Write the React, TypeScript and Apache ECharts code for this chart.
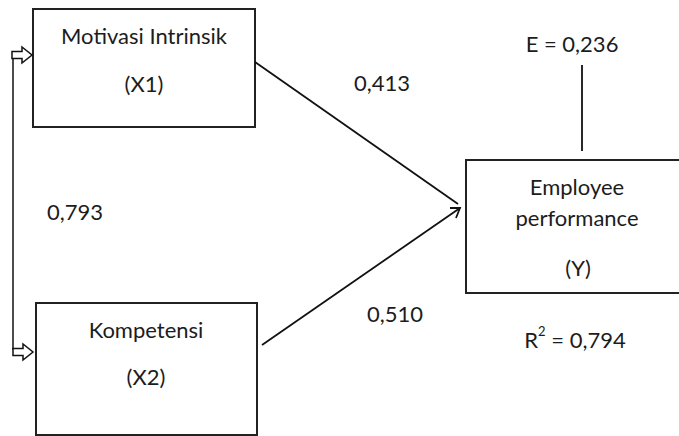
import React, { useEffect, useRef } from "react";
import * as echarts from "echarts";

// ---- content ----
const constructNames = ["Motivasi Intrinsik", "Kompetensi", "Employee\nperformance"];
const constructCodes = ["(X1)", "(X2)", "(Y)"];
const pathCoefficients = ["0,413", "0,510"];
const correlationValue = ["0,793"];
const errorValue = ["0,236"];
const rSquaredValue = ["0,794"];

// ---- layout ----
const FONT = "Lato";
const FS = 22;
const INK = "#1c1c1c";
const boxes = [
  { x: 33, y: 9, w: 222, h: 118, nameY: 35, codeY: 83 },
  { x: 36, y: 303, w: 221, h: 132, nameY: 329, codeY: 376 },
  { x: 466, y: 160, w: 240, h: 133, nameY: 186, codeY: 267 },
];

function blockArrow(x0: number, x1: number, cy: number) {
  const mid = x0 + (x1 - x0) * 0.5;
  return [
    [x0, cy - 3.5],
    [mid, cy - 3.5],
    [mid, cy - 8],
    [x1, cy],
    [mid, cy + 8],
    [mid, cy + 3.5],
    [x0, cy + 3.5],
  ];
}

export default function App() {
  const ref = useRef<HTMLDivElement>(null);
  useEffect(() => {
    const chart = echarts.init(ref.current!, null, { renderer: "svg" });
    const txt = (x: number, y: number, text: string, extra: any = {}) => ({
      type: "text",
      x,
      y,
      style: {
        text,
        fill: INK,
        fontFamily: FONT,
        fontSize: FS,
        align: "center",
        verticalAlign: "middle",
        lineHeight: 31,
        ...extra,
      },
    });
    const elements: any[] = [];
    boxes.forEach((b) => {
      elements.push({
        type: "rect",
        shape: { x: b.x, y: b.y, width: b.w, height: b.h },
        style: { fill: "#fff", stroke: "#222", lineWidth: 2 },
      });
    });
    // names and codes
    elements.push(txt(144, boxes[0].nameY, constructNames[0]));
    elements.push(txt(144, boxes[0].codeY, constructCodes[0]));
    elements.push(txt(146, boxes[1].nameY, constructNames[1]));
    elements.push(txt(146, boxes[1].codeY, constructCodes[1]));
    elements.push(txt(577, 202, constructNames[2]));
    elements.push(txt(578, boxes[2].codeY, constructCodes[2]));
    // paths
    elements.push({
      type: "line",
      shape: { x1: 255, y1: 62, x2: 458, y2: 204 },
      style: { stroke: "#111", lineWidth: 1.8 },
    });
    elements.push({
      type: "line",
      shape: { x1: 262, y1: 345, x2: 460, y2: 208 },
      style: { stroke: "#111", lineWidth: 1.8 },
    });
    elements.push({
      type: "polyline",
      shape: { points: [[450, 208], [460, 208], [456, 218]] },
      style: { stroke: "#111", lineWidth: 1.8, fill: "none" },
    });
    // error line
    elements.push({
      type: "line",
      shape: { x1: 582, y1: 65, x2: 582, y2: 151 },
      style: { stroke: "#111", lineWidth: 1.8 },
    });
    // correlation connector
    elements.push({
      type: "line",
      shape: { x1: 13, y1: 58, x2: 13, y2: 350 },
      style: { stroke: "#111", lineWidth: 1.5 },
    });
    elements.push({
      type: "polygon",
      shape: { points: blockArrow(12, 32, 55) },
      style: { fill: "#fff", stroke: "#111", lineWidth: 1.5 },
    });
    elements.push({
      type: "polygon",
      shape: { points: blockArrow(13, 33, 352) },
      style: { fill: "#fff", stroke: "#111", lineWidth: 1.5 },
    });
    // labels
    elements.push(txt(382, 82, pathCoefficients[0]));
    elements.push(txt(395, 313, pathCoefficients[1]));
    elements.push(txt(75, 211, correlationValue[0]));
    elements.push(txt(572, 43, "E = " + errorValue[0]));
    elements.push(
      txt(575, 337, "{a|R}{s|2}{a| = " + rSquaredValue[0] + "}", {
        rich: {
          a: { fontFamily: FONT, fontSize: FS, fill: INK, color: INK, verticalAlign: "bottom", lineHeight: 26 },
          s: { fontFamily: FONT, fontSize: 13, fill: INK, color: INK, verticalAlign: "top", lineHeight: 26 },
        },
      })
    );

    chart.setOption({
      animation: false,
      backgroundColor: "#fff",
      graphic: { elements },
    });
    return () => chart.dispose();
  }, []);
  return (
    <div
      ref={ref}
      style={{ position: "fixed", left: 0, top: 0, width: 679, height: 436, background: "#fff" }}
    />
  );
}
